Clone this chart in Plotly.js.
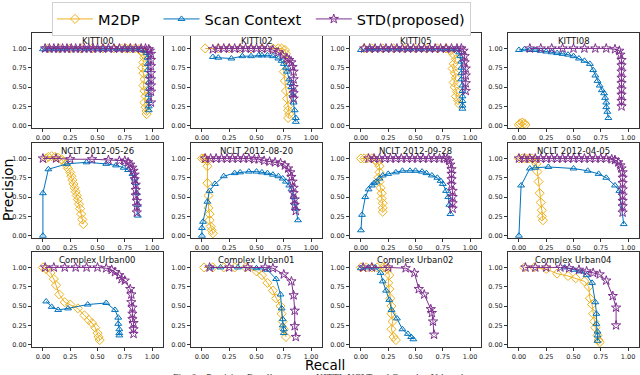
<!DOCTYPE html>
<html><head><meta charset="utf-8">
<script src="https://cdn.plot.ly/plotly-3.0.1.min.js"></script>
<style>html,body{margin:0;padding:0;background:#fff}#chart{width:640px;height:375px}</style>
</head><body><div id="chart"></div>
<script>
// ---- Data (recall r, precision p) ----
const seriesNames = ['M2DP', 'Scan Context', 'STD(proposed)'];
const subplotTitles = ['KITTI00','KITTI02','KITTI05','KITTI08','NCLT 2012-05-26','NCLT 2012-08-20','NCLT 2012-09-28','NCLT 2012-04-05','Complex Urban00','Complex Urban01','Complex Urban02','Complex Urban04'];
const tickVals = [0, 0.25, 0.5, 0.75, 1.0];
const tickText = ['0.00', '0.25', '0.50', '0.75', '1.00'];

// KITTI00
const k00_m2dp_r = [0.05,0.15,0.25,0.35,0.45,0.55,0.65,0.72,0.76,0.80,0.84,0.88,0.90,0.92,0.93,0.92,0.91,0.92,0.93,0.92,0.93,0.94,0.93,0.94,0.95,0.95];
const k00_m2dp_p = [1,1,1,1,1,1,1,1,1,1,1,0.99,0.97,0.93,0.88,0.82,0.75,0.68,0.60,0.52,0.45,0.38,0.30,0.24,0.19,0.15];
const k00_sc_r = [0.00,0.05,0.12,0.20,0.30,0.40,0.50,0.55,0.60,0.68,0.75,0.80,0.85,0.90,0.93,0.95,0.96,0.96,0.96,0.97,0.97,0.97,0.97,0.97,0.97,0.97];
const k00_sc_p = [0.99,0.99,0.99,0.99,0.99,0.99,0.99,0.99,0.99,0.99,0.99,0.99,0.99,0.98,0.97,0.94,0.88,0.80,0.72,0.64,0.56,0.48,0.40,0.32,0.25,0.20];
const k00_std_r = [0.02,0.06,0.10,0.14,0.18,0.22,0.26,0.30,0.34,0.38,0.42,0.46,0.50,0.55,0.60,0.65,0.70,0.75,0.80,0.85,0.90,0.94,0.97,0.98,0.99,0.99,0.99,0.99,0.99,0.99,0.99,0.99];
const k00_std_p = [1,1,1,1,1,1,1,1,1,1,1,1,1,1,1,1,1,1,1,1,1,1,0.99,0.97,0.93,0.85,0.77,0.68,0.60,0.52,0.44,0.30];

// KITTI02
const k02_m2dp_r = [0.03,0.15,0.25,0.35,0.45,0.55,0.65,0.70,0.73,0.76,0.77,0.76,0.75,0.76,0.77,0.78,0.79,0.79,0.80,0.79];
const k02_m2dp_p = [1,1,1,1,1,1,1,1,1,0.98,0.93,0.85,0.70,0.58,0.45,0.35,0.25,0.20,0.15,0.10];
const k02_sc_r = [0.10,0.15,0.27,0.37,0.45,0.52,0.55,0.60,0.65,0.70,0.73,0.75,0.77,0.78,0.80,0.81,0.82,0.83,0.84,0.85,0.86,0.86];
const k02_sc_p = [0.89,0.88,0.87,0.90,0.90,0.91,0.91,0.91,0.90,0.87,0.84,0.80,0.75,0.70,0.60,0.55,0.50,0.40,0.30,0.20,0.10,0.05];
const k02_std_r = [0.10,0.15,0.20,0.25,0.30,0.35,0.40,0.45,0.50,0.55,0.60,0.65,0.70,0.74,0.78,0.80,0.82,0.83,0.84,0.84,0.84,0.84,0.84];
const k02_std_p = [0.99,1,1,1,1,1,1,1,1,1,1,0.98,0.95,0.91,0.87,0.85,0.82,0.76,0.70,0.60,0.50,0.42,0.35];

// KITTI05
const k05_m2dp_r = [0.03,0.10,0.20,0.30,0.40,0.50,0.60,0.70,0.78,0.82,0.85,0.87,0.85,0.84,0.86,0.87,0.85,0.86,0.88,0.87,0.89,0.90];
const k05_m2dp_p = [1,1,1,1,1,1,1,1,1,0.97,0.92,0.86,0.80,0.74,0.68,0.62,0.56,0.50,0.44,0.38,0.33,0.28];
const k05_sc_r = [0.00,0.08,0.15,0.25,0.35,0.45,0.55,0.65,0.75,0.82,0.88,0.90,0.91,0.92,0.92,0.92,0.92,0.93,0.93,0.93,0.93,0.93,0.93];
const k05_sc_p = [0.98,0.99,0.99,0.99,0.99,0.99,0.99,0.99,0.99,0.99,0.99,0.95,0.90,0.83,0.75,0.68,0.60,0.52,0.45,0.38,0.32,0.26,0.22];
const k05_std_r = [0.03,0.08,0.13,0.18,0.23,0.28,0.33,0.38,0.43,0.48,0.53,0.58,0.63,0.68,0.73,0.78,0.83,0.88,0.92,0.94,0.95,0.95,0.96,0.96,0.96,0.96];
const k05_std_p = [1,1,1,1,1,1,1,1,1,1,1,1,1,1,1,1,1,1,1,0.97,0.90,0.82,0.74,0.65,0.55,0.45];

// KITTI08
const k08_m2dp_r = [0.00,0.01,0.03,0.05,0.06];
const k08_m2dp_p = [0.01,0.03,0.04,0.03,0.01];
const k08_sc_r = [0.00,0.05,0.10,0.15,0.20,0.25,0.30,0.35,0.40,0.45,0.50,0.55,0.60,0.65,0.68,0.70,0.72,0.74,0.76,0.78,0.79,0.80,0.80,0.81,0.82];
const k08_sc_p = [0.98,0.99,0.98,0.98,0.97,0.96,0.95,0.94,0.93,0.92,0.90,0.87,0.84,0.80,0.72,0.65,0.58,0.52,0.46,0.42,0.36,0.30,0.24,0.18,0.10];
const k08_std_r = [0.10,0.20,0.30,0.40,0.50,0.60,0.70,0.80,0.88,0.92,0.93,0.94,0.94,0.94,0.94,0.94,0.94,0.94,0.94,0.94];
const k08_std_p = [1,1,1,1,1,1,1,1,0.99,0.97,0.92,0.85,0.78,0.70,0.62,0.55,0.47,0.40,0.32,0.25];

// NCLT 2012-05-26
const n0526_m2dp_r = [0.03,0.05,0.08,0.11,0.14,0.17,0.19,0.21,0.23,0.25,0.26,0.27,0.28,0.29,0.30,0.31,0.32,0.33,0.34,0.35,0.36,0.37];
const n0526_m2dp_p = [1.00,1.02,1.03,1.02,1.01,0.99,0.96,0.92,0.87,0.82,0.77,0.72,0.67,0.62,0.57,0.52,0.47,0.41,0.35,0.28,0.21,0.15];
const n0526_sc_r = [0.00,0.00,0.05,0.22,0.40,0.58,0.67,0.74,0.78,0.82,0.84,0.85,0.86,0.87,0.87];
const n0526_sc_p = [0.00,0.55,0.86,0.93,0.95,0.93,0.91,0.88,0.85,0.80,0.74,0.68,0.55,0.40,0.26];
const n0526_std_r = [0.00,0.12,0.25,0.45,0.60,0.70,0.75,0.78,0.80,0.82,0.83,0.84,0.84,0.85,0.85,0.85,0.86,0.86,0.86];
const n0526_std_p = [1.00,1.00,0.99,0.99,0.98,0.97,0.97,0.95,0.92,0.88,0.84,0.79,0.73,0.66,0.59,0.52,0.45,0.38,0.30];

// NCLT 2012-08-20
const n0820_m2dp_r = [0.00,0.02,0.03,0.05,0.05,0.05,0.06,0.06,0.07,0.07,0.08,0.09,0.10];
const n0820_m2dp_p = [1.00,1.00,1.00,0.97,0.90,0.68,0.52,0.36,0.28,0.20,0.12,0.07,0.03];
const n0820_sc_r = [0.00,0.00,0.01,0.05,0.07,0.12,0.20,0.30,0.35,0.43,0.50,0.55,0.60,0.65,0.70,0.74,0.77,0.80,0.82,0.84,0.85,0.86,0.88];
const n0820_sc_p = [0.00,0.10,0.18,0.44,0.58,0.67,0.77,0.81,0.82,0.83,0.83,0.82,0.81,0.79,0.77,0.74,0.70,0.65,0.60,0.50,0.42,0.35,0.20];
const n0820_std_r = [0.03,0.08,0.13,0.18,0.23,0.28,0.33,0.38,0.43,0.48,0.52,0.57,0.62,0.67,0.72,0.76,0.79,0.81,0.82,0.83,0.84,0.84,0.85,0.85,0.86];
const n0820_std_p = [1,1,1,1,1,1,1,1,1,0.99,0.99,0.97,0.96,0.95,0.94,0.91,0.87,0.82,0.76,0.70,0.62,0.55,0.47,0.40,0.32];

// NCLT 2012-09-28
const n0928_m2dp_r = [0.00,0.03,0.06,0.10,0.13,0.15,0.17,0.17,0.16,0.17,0.18,0.19,0.19,0.20,0.20,0.20];
const n0928_m2dp_p = [1.00,1.00,1.00,1.00,0.98,0.95,0.90,0.82,0.75,0.70,0.62,0.55,0.48,0.42,0.36,0.31];
const n0928_sc_r = [0.00,0.01,0.04,0.07,0.10,0.12,0.14,0.17,0.20,0.25,0.32,0.38,0.45,0.50,0.56,0.60,0.65,0.70,0.73,0.75,0.78,0.80,0.81,0.82];
const n0928_sc_p = [0.07,0.27,0.50,0.60,0.65,0.68,0.70,0.74,0.78,0.80,0.82,0.84,0.84,0.84,0.83,0.81,0.78,0.75,0.71,0.67,0.58,0.50,0.40,0.28];
const n0928_std_r = [0.07,0.12,0.17,0.22,0.27,0.32,0.37,0.42,0.47,0.52,0.57,0.62,0.67,0.72,0.76,0.79,0.81,0.82,0.83,0.83,0.83,0.83,0.84,0.84,0.84,0.84];
const n0928_std_p = [1,1,1,1,1,1,1,1,1,1,1,1,1,1,1,1,0.97,0.92,0.86,0.80,0.73,0.66,0.58,0.50,0.42,0.35];

// NCLT 2012-04-05
const n0405_m2dp_r = [0.00,0.03,0.06,0.09,0.12,0.15,0.16,0.17,0.18,0.19,0.20,0.21,0.21,0.22];
const n0405_m2dp_p = [1.00,1.00,1.00,1.00,1.00,0.98,0.93,0.83,0.70,0.55,0.43,0.33,0.25,0.20];
const n0405_sc_r = [0.00,0.02,0.10,0.15,0.27,0.50,0.63,0.73,0.80,0.88,0.92,0.96];
const n0405_sc_p = [0.00,0.65,0.87,0.88,0.89,0.87,0.84,0.80,0.75,0.65,0.58,0.15];
const n0405_std_r = [0.00,0.05,0.10,0.15,0.20,0.25,0.30,0.35,0.40,0.45,0.50,0.55,0.60,0.65,0.70,0.75,0.80,0.85,0.88,0.91,0.93,0.94,0.95,0.95,0.95,0.95,0.95,0.95,0.95,0.95];
const n0405_std_p = [1,1,1,1,1,1,1,1,1,1,1,1,1,1,1,1,1,0.99,0.98,0.95,0.91,0.87,0.82,0.75,0.68,0.60,0.52,0.45,0.38,0.30];

// Complex Urban00
const u00_m2dp_r = [0.00,0.03,0.07,0.10,0.12,0.15,0.20,0.25,0.32,0.38,0.42,0.45,0.48,0.50,0.51,0.52];
const u00_m2dp_p = [1.00,0.98,0.93,0.85,0.77,0.65,0.55,0.52,0.47,0.38,0.32,0.28,0.22,0.15,0.10,0.06];
const u00_sc_r = [0.03,0.08,0.14,0.23,0.41,0.58,0.66,0.69,0.69,0.70,0.70,0.70];
const u00_sc_p = [0.56,0.49,0.45,0.47,0.52,0.54,0.45,0.35,0.27,0.20,0.15,0.12];
const u00_std_r = [0.02,0.10,0.20,0.30,0.40,0.50,0.58,0.63,0.66,0.70,0.72,0.75,0.80,0.81,0.81,0.82,0.82,0.82,0.83,0.83,0.83];
const u00_std_p = [1.00,1.00,1.00,1.00,1.00,1.00,0.99,0.97,0.94,0.90,0.85,0.83,0.72,0.65,0.55,0.48,0.40,0.33,0.28,0.20,0.14];

// Complex Urban01
const u01_m2dp_r = [0.02,0.10,0.20,0.30,0.40,0.50,0.55,0.60,0.65,0.68,0.72,0.73,0.74,0.75,0.77];
const u01_m2dp_p = [1.00,1.00,1.00,1.00,1.00,0.95,0.90,0.80,0.70,0.60,0.50,0.40,0.30,0.20,0.10];
const u01_sc_r = [0.08,0.17,0.33,0.50,0.60,0.68,0.72,0.73,0.74,0.74,0.75,0.75];
const u01_sc_p = [1.00,1.00,1.00,0.99,0.97,0.85,0.65,0.47,0.33,0.25,0.20,0.15];
const u01_std_r = [0.07,0.25,0.42,0.58,0.65,0.75,0.82,0.84,0.85,0.85,0.86];
const u01_std_p = [1.00,1.00,1.00,1.00,0.99,0.91,0.82,0.64,0.44,0.24,0.10];

// Complex Urban02
const u02_m2dp_r = [0.00,0.05,0.10,0.15,0.20,0.22,0.24,0.26,0.25,0.26,0.27,0.28,0.28,0.29,0.28,0.30,0.32];
const u02_m2dp_p = [1.00,1.00,1.00,1.00,1.00,1.00,0.98,0.90,0.80,0.72,0.60,0.50,0.40,0.30,0.20,0.10,0.06];
const u02_sc_r = [0.00,0.07,0.13,0.18,0.20,0.23,0.26,0.28,0.33,0.38,0.43,0.46,0.48];
const u02_sc_p = [0.99,1.00,1.00,0.93,0.82,0.70,0.58,0.45,0.34,0.20,0.14,0.10,0.07];
const u02_std_r = [0.02,0.10,0.25,0.41,0.49,0.53,0.58,0.64,0.65,0.66,0.67];
const u02_std_p = [1.00,1.00,1.00,0.99,0.93,0.72,0.65,0.46,0.41,0.30,0.13];

// Complex Urban04
const u04_m2dp_r = [0.05,0.14,0.25,0.35,0.45,0.52,0.60,0.64,0.65,0.67,0.68,0.69,0.70,0.72,0.73,0.74];
const u04_m2dp_p = [1.00,1.00,0.98,0.92,0.89,0.86,0.82,0.75,0.60,0.52,0.40,0.30,0.22,0.12,0.06,0.03];
const u04_sc_r = [0.42,0.50,0.56,0.62,0.67,0.70,0.71,0.71,0.72,0.72,0.72];
const u04_sc_p = [1.00,0.97,0.95,0.90,0.80,0.55,0.40,0.27,0.17,0.12,0.05];
const u04_std_r = [0.06,0.15,0.25,0.38,0.46,0.55,0.62,0.68,0.74,0.80,0.86,0.89,0.89];
const u04_std_p = [1.00,1.00,1.00,1.00,0.99,0.97,0.95,0.93,0.91,0.83,0.63,0.48,0.25];

const datasets = [
  [[k00_m2dp_r,k00_m2dp_p],[k00_sc_r,k00_sc_p],[k00_std_r,k00_std_p]],
  [[k02_m2dp_r,k02_m2dp_p],[k02_sc_r,k02_sc_p],[k02_std_r,k02_std_p]],
  [[k05_m2dp_r,k05_m2dp_p],[k05_sc_r,k05_sc_p],[k05_std_r,k05_std_p]],
  [[k08_m2dp_r,k08_m2dp_p],[k08_sc_r,k08_sc_p],[k08_std_r,k08_std_p]],
  [[n0526_m2dp_r,n0526_m2dp_p],[n0526_sc_r,n0526_sc_p],[n0526_std_r,n0526_std_p]],
  [[n0820_m2dp_r,n0820_m2dp_p],[n0820_sc_r,n0820_sc_p],[n0820_std_r,n0820_std_p]],
  [[n0928_m2dp_r,n0928_m2dp_p],[n0928_sc_r,n0928_sc_p],[n0928_std_r,n0928_std_p]],
  [[n0405_m2dp_r,n0405_m2dp_p],[n0405_sc_r,n0405_sc_p],[n0405_std_r,n0405_std_p]],
  [[u00_m2dp_r,u00_m2dp_p],[u00_sc_r,u00_sc_p],[u00_std_r,u00_std_p]],
  [[u01_m2dp_r,u01_m2dp_p],[u01_sc_r,u01_sc_p],[u01_std_r,u01_std_p]],
  [[u02_m2dp_r,u02_m2dp_p],[u02_sc_r,u02_sc_p],[u02_std_r,u02_std_p]],
  [[u04_m2dp_r,u04_m2dp_p],[u04_sc_r,u04_sc_p],[u04_std_r,u04_std_p]]
];

// ---- Styling ----
const W = 640, H = 375;
const colors = ['#EDB120', '#0072BD', '#7E2F8E'];
const symbols = ['diamond-open', 'triangle-up-open', 'star-open'];
const msizes = [7, 6, 7];
const legendPad = ['\u00a0\u00a0\u00a0', '\u00a0', ''];
const colPx = [[32,163],[191,322],[350,481],[508,639]];
const rowPx = [[33,128],[143,238],[252,347]];
const FONT = 'DejaVu Sans, sans-serif';

const traces = [];
const layout = {
  width: W, height: H,
  margin: {l:0, r:0, t:0, b:0},
  paper_bgcolor: '#fff', plot_bgcolor: '#fff',
  font: {family: FONT, color: '#000'},
  showlegend: true,
  legend: {
    orientation: 'h', x: 52/W, xanchor: 'left', y: 1 - 2/H, yanchor: 'top',
    bgcolor: '#fff', bordercolor: '#d0d0d0', borderwidth: 1,
    itemwidth: 36,
    font: {family: FONT, size: 14.5, color: '#000'}
  },
  annotations: []
};

for (let i = 0; i < 12; i++) {
  const row = Math.floor(i / 4), col = i % 4;
  const ax = i === 0 ? '' : String(i + 1);
  const xd = [colPx[col][0] / W, colPx[col][1] / W];
  const yd = [1 - rowPx[row][1] / H, 1 - rowPx[row][0] / H];
  const common = {
    showline: true, mirror: true, linecolor: '#333', linewidth: 1,
    ticks: 'outside', ticklen: 3, tickcolor: '#333', tickwidth: 1,
    showgrid: false, zeroline: false, fixedrange: true,
    tickvals: tickVals, ticktext: tickText,
    tickfont: {family: FONT, size: 6.5, color: '#222'}
  };
  layout['xaxis' + ax] = Object.assign({}, common, {domain: xd, range: [-0.1, 1.1], anchor: 'y' + ax});
  layout['yaxis' + ax] = Object.assign({}, common, {domain: yd, range: [-0.03, 1.2], anchor: 'x' + ax});
  for (let s = 0; s < 3; s++) {
    traces.push({
      type: 'scatter', mode: 'lines+markers',
      x: datasets[i][s][0], y: datasets[i][s][1],
      xaxis: 'x' + ax, yaxis: 'y' + ax,
      name: seriesNames[s] + legendPad[s], legendgroup: seriesNames[s], showlegend: i === 0,
      line: {color: colors[s], width: 1},
      marker: {symbol: symbols[s], size: msizes[s], color: colors[s], line: {color: colors[s], width: 1}},
      cliponaxis: true
    });
  }
  layout.annotations.push({
    text: subplotTitles[i], xref: 'paper', yref: 'paper',
    x: (xd[0] + xd[1]) / 2, y: yd[1] - 1 / H, xanchor: 'center', yanchor: 'top',
    showarrow: false, font: {family: FONT, size: 8.5, color: '#111'}
  });
}

layout.annotations.push({
  text: 'Precision', xref: 'paper', yref: 'paper', x: 8 / W, y: 1 - 190 / H,
  xanchor: 'center', yanchor: 'middle', textangle: -90, showarrow: false,
  font: {family: FONT, size: 14, color: '#000'}
});
layout.annotations.push({
  text: 'Recall', xref: 'paper', yref: 'paper', x: 325 / W, y: 1 - 365 / H,
  xanchor: 'center', yanchor: 'middle', showarrow: false,
  font: {family: FONT, size: 13.5, color: '#000'}
});
layout.annotations.push({
  text: 'Fig. 6.   Precision-Recall curves on KITTI, NCLT and Complex Urban datasets.',
  xref: 'paper', yref: 'paper', x: 332 / W, y: 1 - 370 / H,
  xanchor: 'center', yanchor: 'top', showarrow: false,
  font: {family: 'Liberation Serif, serif', size: 10, color: '#444'}
});

Plotly.newPlot('chart', traces, layout, {staticPlot: true, displayModeBar: false});
</script></body></html>
